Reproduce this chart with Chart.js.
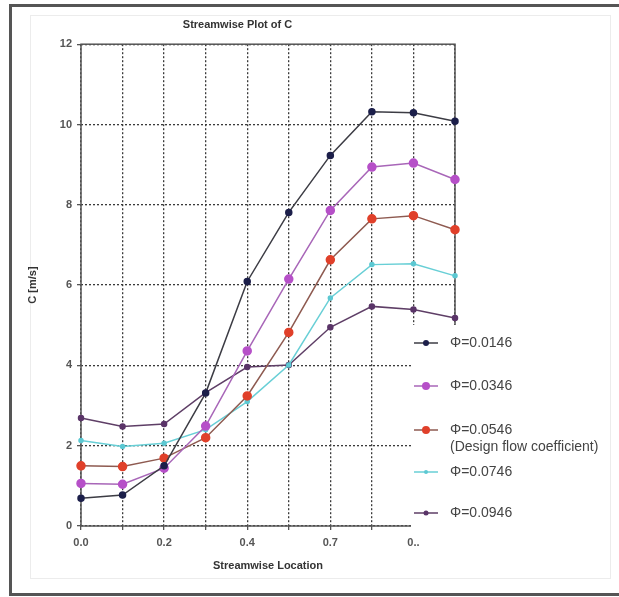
<!DOCTYPE html>
<html>
<head>
<meta charset="utf-8">
<script src="https://cdn.jsdelivr.net/npm/chart.js@4"></script>
<style>
  html, body { margin: 0; padding: 0; background: #fff; overflow: hidden; }
  #wrap { position: relative; width: 619px; height: 597px; }
</style>
</head>
<body>
<div id="wrap"><canvas id="c" width="619" height="597"></canvas></div>
<script>
// streamwise locations (categories) and the tick labels Excel printed
const locations = ['0.0', '0.1', '0.2', '0.3', '0.4', '0.6', '0.7', '0.8', '0.9', '1.0'];
const tickLabels = ['0.0', '', '0.2', '', '0.4', '', '0.7', '', '0..', ''];
const yTicks = [0, 2, 4, 6, 8, 10, 12];

// C [m/s] per flow coefficient
const phi0146 = [0.69, 0.77, 1.50, 3.31, 6.09, 7.81, 9.23, 10.32, 10.29, 10.08];
const phi0346 = [1.06, 1.04, 1.44, 2.49, 4.36, 6.15, 7.86, 8.94, 9.04, 8.63];
const phi0546 = [1.50, 1.48, 1.69, 2.20, 3.24, 4.82, 6.63, 7.65, 7.73, 7.38];
const phi0746 = [2.13, 1.98, 2.06, 2.40, 3.10, 4.01, 5.68, 6.51, 6.53, 6.23];
const phi0946 = [2.69, 2.48, 2.54, 3.32, 3.96, 4.01, 4.95, 5.47, 5.39, 5.18];

const seriesNames = ['Φ=0.0146', 'Φ=0.0346', 'Φ=0.0546', 'Φ=0.0746', 'Φ=0.0946'];
const designNote = '(Design flow coefficient)';

function series(label, data, line, marker, r) {
    return {
        label: label,
        data: data,
        borderColor: line,
        borderWidth: 1.5,
        pointBackgroundColor: marker,
        pointBorderColor: marker,
        pointRadius: r,
        pointHoverRadius: r,
        tension: 0,
        clip: false
    };
}

// frame round the whole picture plus the plot border
const framePlugin = {
    id: 'frame',
    beforeDraw(chart) {
        const ctx = chart.ctx;
        ctx.save();
        ctx.fillStyle = '#fff';
        ctx.fillRect(0, 0, chart.width, chart.height);
        ctx.strokeStyle = '#ececec';
        ctx.lineWidth = 1;
        ctx.strokeRect(30.5, 15.5, 580, 563);
        ctx.strokeStyle = '#555';
        ctx.lineWidth = 3;
        ctx.strokeRect(10.5, 5.5, 640, 589);
        ctx.restore();
    },
    beforeDatasetsDraw(chart) {
        const a = chart.chartArea, ctx = chart.ctx;
        ctx.save();
        ctx.strokeStyle = '#555';
        ctx.lineWidth = 1.5;
        ctx.strokeRect(a.left, a.top, a.right - a.left, a.bottom - a.top);
        ctx.restore();
    }
};

// Excel-like legend box that sits over the lower right of the plot
const legendPlugin = {
    id: 'boxLegend',
    afterDraw(chart) {
        const ctx = chart.ctx;
        const rows = [343, 386, 430, 472, 513];
        ctx.save();
        ctx.fillStyle = '#fff';
        ctx.fillRect(411, 325, 198, 208);
        ctx.font = '14px "Liberation Sans", Arial, sans-serif';
        ctx.textBaseline = 'middle';
        chart.data.datasets.forEach((ds, i) => {
            const y = rows[i];
            ctx.strokeStyle = ds.borderColor;
            ctx.lineWidth = ds.borderWidth;
            ctx.beginPath();
            ctx.moveTo(414, y);
            ctx.lineTo(438, y);
            ctx.stroke();
            ctx.fillStyle = ds.pointBackgroundColor;
            ctx.beginPath();
            ctx.arc(426, y, ds.pointRadius, 0, Math.PI * 2);
            ctx.fill();
            ctx.fillStyle = '#444';
            ctx.fillText(ds.label, 450, y);
            if (i === 2) ctx.fillText(designNote, 450, y + 17);
        });
        ctx.restore();
    }
};

const ctx = document.getElementById('c').getContext('2d');
Chart.defaults.font.family = '"Liberation Sans", Arial, sans-serif';
Chart.defaults.color = '#333';

new Chart(ctx, {
    type: 'line',
    data: {
        labels: locations,
        datasets: [
            series(seriesNames[0], phi0146, '#3c3c44', '#1c1f4a', 3),
            series(seriesNames[1], phi0346, '#a866b8', '#b650c8', 4),
            series(seriesNames[2], phi0546, '#8e5a50', '#e0402a', 4),
            series(seriesNames[3], phi0746, '#68cfd6', '#5cc8d2', 2),
            series(seriesNames[4], phi0946, '#5e3e66', '#5a3468', 2.5)
        ]
    },
    options: {
        responsive: false,
        animation: false,
        events: [],
        layout: { padding: { top: 12, left: 20, right: 164, bottom: 14 } },
        plugins: {
            legend: { display: false },
            tooltip: { enabled: false },
            title: {
                display: true,
                text: 'Streamwise Plot of C',
                font: { size: 11, weight: 'bold' },
                color: '#333',
                padding: { top: 6, bottom: 13 }
            }
        },
        scales: {
            x: {
                offset: false,
                grid: {
                    color: '#3a3a3a',
                    lineWidth: 1.3,
                    tickLength: 4,
                    tickColor: '#555',
                    tickBorderDash: [],
                    offset: false
                },
                border: { display: false, dash: [2, 2] },
                ticks: {
                    autoSkip: false,
                    maxRotation: 0,
                    padding: 6,
                    font: { size: 11, weight: 'bold' },
                    color: '#555',
                    callback: (v, i) => tickLabels[i]
                },
                title: {
                    display: true,
                    text: 'Streamwise Location',
                    font: { size: 11, weight: 'bold' },
                    color: '#333',
                    padding: { top: 4, bottom: 10 }
                },
                afterFit(scale) { scale.height = 57; }
            },
            y: {
                min: 0,
                max: 12,
                afterBuildTicks(scale) { scale.ticks = yTicks.map(v => ({ value: v })); },
                grid: {
                    color: '#3a3a3a',
                    lineWidth: 1.3,
                    tickLength: 4,
                    tickColor: '#555',
                    tickBorderDash: []
                },
                border: { display: false, dash: [2, 2] },
                ticks: {
                    padding: 5,
                    font: { size: 11, weight: 'bold' },
                    color: '#555'
                },
                title: {
                    display: true,
                    text: 'C [m/s]',
                    font: { size: 11, weight: 'bold' },
                    color: '#333',
                    padding: { top: 6, bottom: 4 }
                },
                afterFit(scale) { scale.width = 61; }
            }
        }
    },
    plugins: [framePlugin, legendPlugin]
});
</script>
</body>
</html>
